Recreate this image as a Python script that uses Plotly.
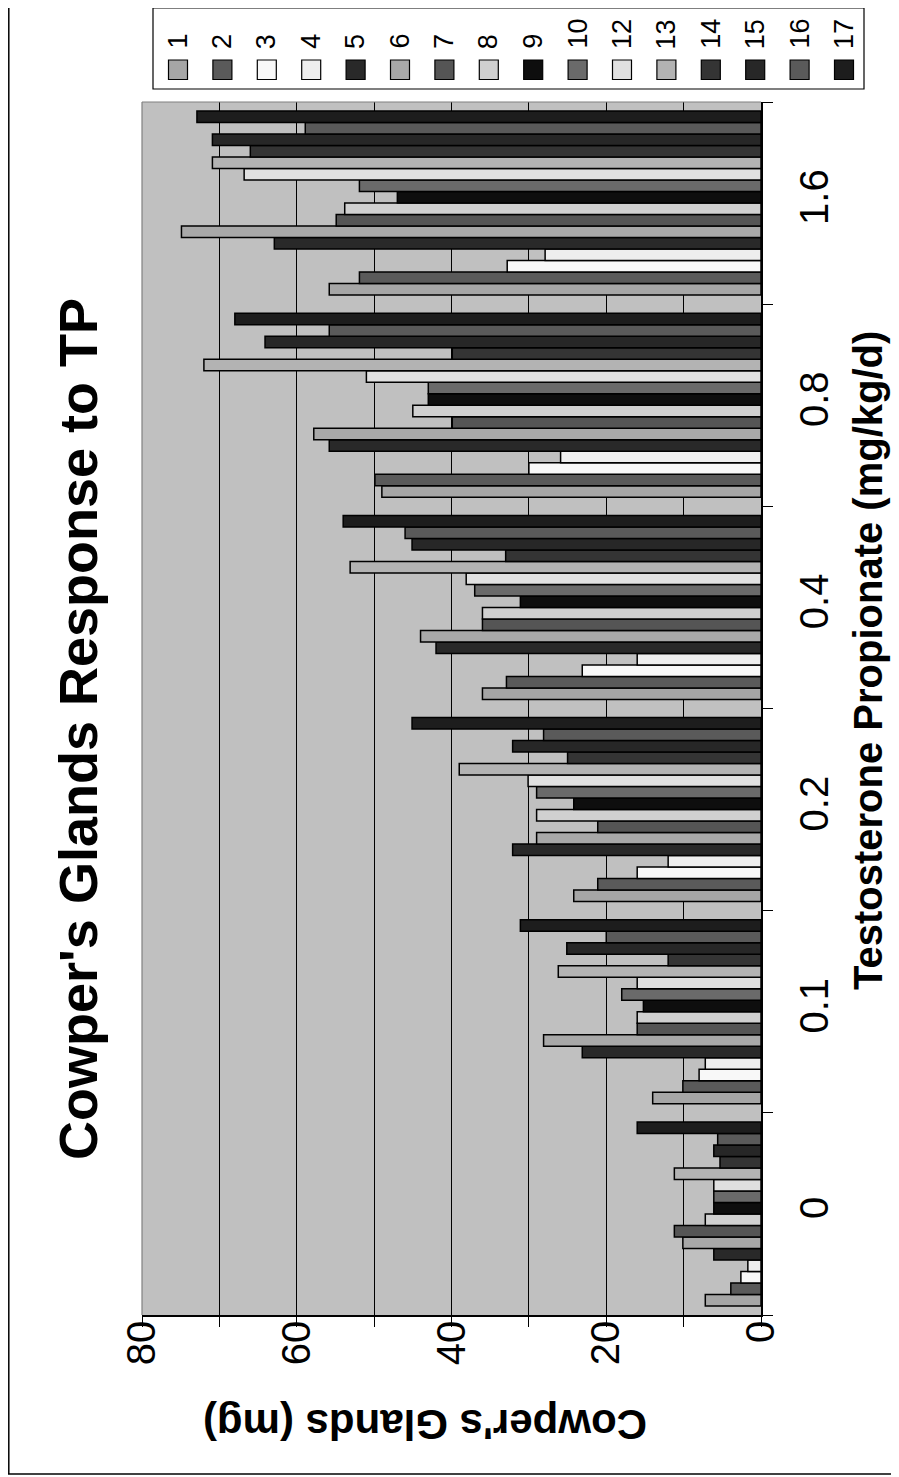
import plotly.graph_objects as go

W, H = 899, 1477
OFF = 8  # page body margin offset

doses = ["0", "0.1", "0.2", "0.4", "0.8", "1.6"]
series_names = ["1", "2", "3", "4", "5", "6", "7", "8", "9", "10",
                "12", "13", "14", "15", "16", "17"]

s1 = [7.2, 14.0, 24.2, 36.0, 49.0, 55.8]
s2 = [3.9, 10.1, 21.1, 32.9, 49.9, 51.9]
s3 = [2.6, 8.0, 16.0, 23.1, 30.0, 32.8]
s4 = [1.7, 7.2, 12.0, 16.0, 25.9, 27.9]
s5 = [6.1, 23.1, 32.1, 42.0, 55.8, 62.9]
s6 = [10.1, 28.1, 29.0, 44.0, 57.8, 74.9]
s7 = [11.2, 16.0, 21.1, 36.0, 39.9, 54.9]
s8 = [7.2, 16.0, 29.0, 36.0, 45.0, 53.8]
s9 = [6.1, 15.2, 24.2, 31.1, 43.0, 47.0]
s10 = [6.1, 18.0, 29.0, 37.0, 43.0, 51.9]
s12 = [6.1, 16.0, 30.1, 38.1, 51.0, 66.8]
s13 = [11.2, 26.2, 39.0, 53.1, 72.0, 70.9]
s14 = [5.3, 12.0, 25.0, 33.0, 39.9, 66.0]
s15 = [6.1, 25.1, 32.1, 45.1, 64.1, 70.9]
s16 = [5.6, 20.0, 28.1, 46.0, 55.8, 58.9]
s17 = [16.0, 31.1, 45.1, 54.0, 68.0, 72.9]

series_values = [s1, s2, s3, s4, s5, s6, s7, s8, s9, s10,
                 s12, s13, s14, s15, s16, s17]

colors = ["#a6a6a6", "#5a5a5a", "#f8f8f8", "#eeeeee", "#292929", "#a8a8a8",
          "#555555", "#d0d0d0", "#0e0e0e", "#6a6a6a", "#e0e0e0", "#b3b3b3",
          "#343434", "#272727", "#5a5a5a", "#1d1d1d"]

value_ticks = [0, 10, 20, 30, 40, 50, 60, 70, 80]
value_ticktext = ["0", "", "20", "", "40", "", "60", "", "80"]

FONT = "Liberation Sans, Arial, sans-serif"


def px(p):
    return (p - OFF) / W


def py(p):
    return 1 - (p - OFF) / H


fig = go.Figure()
for name, vals, col in zip(series_names, series_values, colors):
    fig.add_trace(go.Bar(
        y=doses, x=vals, name=name, orientation="h",
        marker=dict(color=col, line=dict(color="black", width=1.5)),
        showlegend=False,
    ))

# plot area geometry (screen pixels)
L, R, T, B = 142, 761, 102, 1315

shapes = []
# outer frame (left and bottom edges visible)
shapes.append(dict(type="line", xref="paper", yref="paper",
                   x0=0.8 / W, x1=0.8 / W, y0=py(1474), y1=1,
                   line=dict(color="black", width=1.5)))
shapes.append(dict(type="line", xref="paper", yref="paper",
                   x0=0, x1=1, y0=py(1474), y1=py(1474),
                   line=dict(color="black", width=1.5)))
# plot area gray border (left & top)
shapes.append(dict(type="line", xref="paper", yref="paper",
                   x0=px(L), x1=px(L), y0=py(B), y1=py(T),
                   line=dict(color="#808080", width=1.2)))
shapes.append(dict(type="line", xref="paper", yref="paper",
                   x0=px(L), x1=px(R), y0=py(T), y1=py(T),
                   line=dict(color="#808080", width=1.2)))
# legend box
shapes.append(dict(type="rect", xref="paper", yref="paper",
                   x0=px(153), x1=px(864), y0=py(89), y1=py(8),
                   line=dict(color="black", width=1.2), fillcolor="white"))

annotations = []
first_c, step = 178, 44.4
for i, (name, col) in enumerate(zip(series_names, colors)):
    cx = first_c + i * step
    shapes.append(dict(type="rect", xref="paper", yref="paper",
                       x0=px(cx - 9.5), x1=px(cx + 9.5), y0=py(79.5), y1=py(60),
                       line=dict(color="black", width=1.2), fillcolor=col))
    annotations.append(dict(text=name, xref="paper", yref="paper",
                            x=px(cx), y=py(51), xanchor="center", yanchor="bottom",
                            textangle=-90, showarrow=False,
                            font=dict(family=FONT, size=27, color="black")))

annotations.append(dict(text="Cowper's Glands Response to TP", xref="paper", yref="paper",
                        x=px(78), y=py(729), xanchor="center", yanchor="middle",
                        textangle=-90, showarrow=False,
                        font=dict(family=FONT, size=54, color="black", weight="bold")))
annotations.append(dict(text="Testosterone Propionate (mg/kg/d)", xref="paper", yref="paper",
                        x=px(868), y=py(661), xanchor="center", yanchor="middle",
                        textangle=-90, showarrow=False,
                        font=dict(family=FONT, size=40, color="black", weight="bold")))
annotations.append(dict(text="Cowper's Glands (mg)", xref="paper", yref="paper",
                        x=px(425), y=py(1425), xanchor="center", yanchor="middle",
                        textangle=180, showarrow=False,
                        font=dict(family=FONT, size=42, color="black", weight="bold")))

fig.update_layout(
    width=W, height=H,
    margin=dict(l=0, r=0, t=0, b=0),
    paper_bgcolor="white",
    plot_bgcolor="#c0c0c0",
    barmode="group",
    bargap=0.09,
    bargroupgap=0,
    showlegend=False,
    shapes=shapes,
    annotations=annotations,
    font=dict(family=FONT, color="black"),
    xaxis=dict(
        domain=[px(L), px(R)],
        range=[80, 0],
        tickmode="array", tickvals=value_ticks, ticktext=value_ticktext,
        showgrid=True, gridcolor="black", gridwidth=1,
        zeroline=False,
        ticks="outside", ticklen=10, tickcolor="black", tickwidth=1.2,
        tickangle=-90,
        tickfont=dict(family=FONT, size=40, color="black"),
        ticklabelstandoff=-22,
        showline=True, linecolor="black", linewidth=1.5,
        automargin=False,
    ),
    yaxis=dict(
        domain=[py(B), py(T)],
        type="category",
        categoryorder="array", categoryarray=doses,
        side="right",
        tickson="boundaries",
        ticks="outside", ticklen=10, tickcolor="black", tickwidth=1.2,
        tickangle=-90,
        tickfont=dict(family=FONT, size=40, color="black"),
        ticklabelstandoff=17,
        showgrid=False, zeroline=False,
        showline=True, linecolor="black", linewidth=1.5,
        automargin=False,
    ),
)

fig.write_html("out.html")
